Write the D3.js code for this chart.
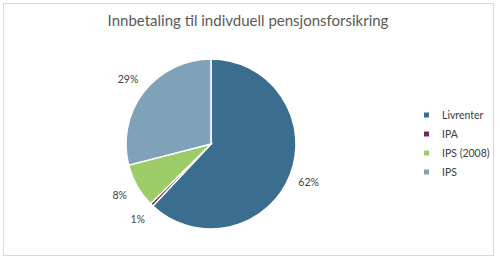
<!DOCTYPE html>
<html lang="no">
<head>
<meta charset="UTF-8">
<title>Innbetaling til indivduell pensjonsforsikring</title>
<script src="https://d3js.org/d3.v7.min.js"></script>
<style>
  body { margin: 0; background: #fff; }
  text { font-family: Lato, "Open Sans", sans-serif; }
</style>
</head>
<body>
<script>
const categories = ["Livrenter", "IPA", "IPS (2008)", "IPS"];
const values = [62, 0.6, 8.4, 29];
const labels = ["62%", "1%", "8%", "29%"];
const colors = ["#3a6d8e", "#6a2a68", "#9dcc68", "#7fa2b8"];

const width = 500, height = 264;
const svg = d3.select("body").append("svg")
  .attr("width", width).attr("height", height);

// outer frame
svg.append("rect")
  .attr("x", 3.5).attr("y", 3.5)
  .attr("width", 490).attr("height", 252)
  .attr("fill", "#fff").attr("stroke", "#d9d9d9");

svg.append("text")
  .attr("x", 248).attr("y", 26)
  .attr("text-anchor", "middle")
  .attr("font-size", 15)
  .attr("fill", "#595959")
  .text("Innbetaling til indivduell pensjonsforsikring");

const cx = 211, cy = 144, r = 85;
const pie = d3.pie().sort(null).value(d => d)(values);
const arc = d3.arc().innerRadius(0).outerRadius(r);
const labelArc = d3.arc().innerRadius(105).outerRadius(105);

const g = svg.append("g").attr("transform", `translate(${cx},${cy})`);

g.selectAll("path")
  .data(pie)
  .enter()
  .append("path")
  .attr("d", arc)
  .attr("fill", (d, i) => colors[i])
  .attr("stroke", "#fff")
  .attr("stroke-width", 1.5);

g.selectAll(".lbl")
  .data(pie)
  .enter()
  .append("text")
  .attr("class", "lbl")
  .attr("transform", d => `translate(${labelArc.centroid(d)})`)
  .attr("text-anchor", "middle")
  .attr("dy", "0.35em")
  .attr("font-size", 10.5)
  .attr("fill", "#404040")
  .text((d, i) => labels[i]);

// legend
const legY = d3.scalePoint().domain(categories).range([115, 172]);
const leg = svg.append("g");
leg.selectAll("rect")
  .data(categories)
  .enter()
  .append("rect")
  .attr("x", 424).attr("y", d => legY(d) - 2.5)
  .attr("width", 5).attr("height", 5)
  .attr("fill", (d, i) => colors[i]);
leg.selectAll("text")
  .data(categories)
  .enter()
  .append("text")
  .attr("x", 442).attr("y", d => legY(d))
  .attr("dy", "0.35em")
  .attr("font-size", 10.5)
  .attr("fill", "#404040")
  .text(d => d);
</script>
</body>
</html>
